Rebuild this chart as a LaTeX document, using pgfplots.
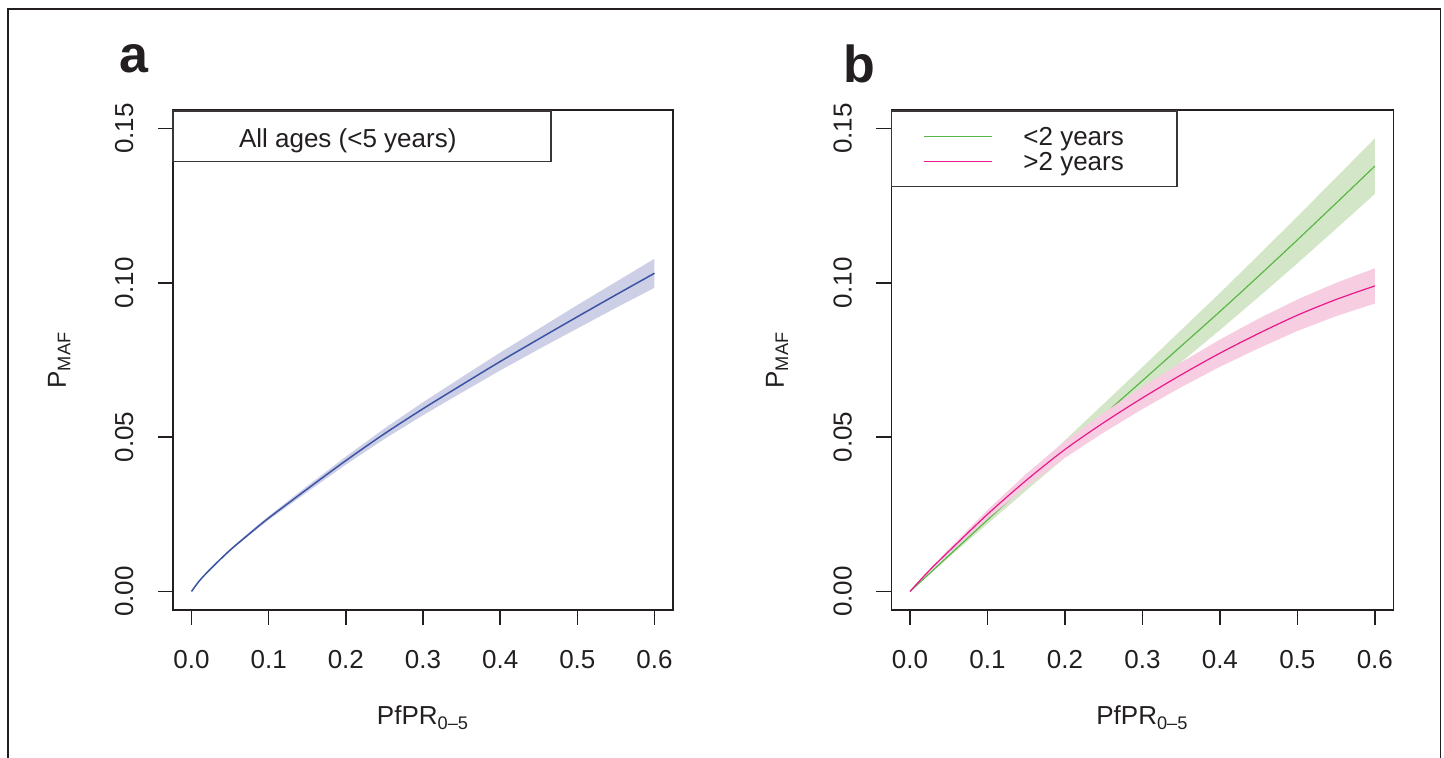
\documentclass[border=0pt]{standalone}
\usepackage{fontspec}
\setmainfont{Liberation Sans}
\usepackage{pgfplots}
\pgfplotsset{compat=1.18}

\definecolor{bluel}{HTML}{3C54A4}
\definecolor{blueb}{HTML}{CDCFE6}
\definecolor{greenl}{HTML}{5BB646}
\definecolor{greenb}{HTML}{D3E7C8}
\definecolor{pinkl}{HTML}{E8198B}
\definecolor{pinkb}{HTML}{F7CDE1}
\definecolor{ink}{HTML}{231F20}

% central estimates
\pgfplotstableread{
x      y
0.00   0.0000
0.01   0.0034
0.025  0.0074
0.05   0.0134
0.075  0.0187
0.10   0.0238
0.15   0.0332
0.20   0.0424
0.25   0.0511
0.30   0.0592
0.35   0.0669
0.40   0.0745
0.45   0.0818
0.50   0.0890
0.55   0.0961
0.60   0.1031
}\allages

\pgfplotstableread{
x      y
0.00   0.0000
0.025  0.0058
0.05   0.0116
0.10   0.0232
0.15   0.0347
0.20   0.0462
0.25   0.0572
0.30   0.0683
0.35   0.0795
0.40   0.0907
0.45   0.1022
0.50   0.1139
0.55   0.1258
0.60   0.1378
}\youngkids

\pgfplotstableread{
x      y
0.00   0.0000
0.01   0.0028
0.025  0.0068
0.05   0.0130
0.10   0.0250
0.15   0.0360
0.20   0.0460
0.25   0.0547
0.30   0.0627
0.35   0.0702
0.40   0.0772
0.45   0.0836
0.50   0.0895
0.55   0.0946
0.60   0.0990
}\oldkids

\pgfplotsset{
  panel/.style={
    scale only axis, width=250pt, height=250pt,
    xmin=-0.024, xmax=0.624, ymin=-0.006, ymax=0.156,
    xtick={0,0.1,0.2,0.3,0.4,0.5,0.6},
    xticklabels={0.0,0.1,0.2,0.3,0.4,0.5,0.6},
    ytick={0,0.05,0.1,0.15},
    yticklabels={0.00,0.05,0.10,0.15},
    xtick pos=bottom, ytick pos=left, tick align=outside,
    major tick length=7.5pt,
    tick style={ink, line width=0.75pt},
    axis line style={ink, line width=0.85pt},
    ticklabel style={font=\fontsize{13}{15}\selectfont, text=ink},
    xticklabel style={anchor=base, inner sep=0pt}, xticklabel shift=21.7pt,
    yticklabel style={rotate=90, anchor=base, inner sep=0pt}, yticklabel shift=12.4pt,
    label style={font=\fontsize{13}{15}\selectfont, text=ink},
    xlabel={PfPR\textsubscript{0–5}},
    ylabel={P\textsubscript{MAF}},
    x label style={at={(axis description cs:0.5,-0.23)}, anchor=base},
    y label style={at={(axis description cs:-0.214,0.5)}, anchor=base},
  },
}

\begin{document}
\begin{tikzpicture}[font=\fontsize{13}{15}\selectfont]
\useasboundingbox (0,0) rectangle (722pt,379pt);
\draw[ink, line width=0.75pt] (3.9pt,0) -- (3.9pt,374.5pt) -- (720.3pt,374.5pt) -- (720.3pt,0);

\node[anchor=base west, inner sep=0pt, font=\fontsize{26}{30}\selectfont\bfseries, text=ink] at (59.5pt,342.5pt) {a};
\node[anchor=base west, inner sep=0pt, font=\fontsize{26}{30}\selectfont\bfseries, text=ink] at (421.5pt,337.6pt) {b};

% --- panel a ---
\begin{axis}[panel, at={(86.5pt,74pt)}, anchor=south west]
% 95% band: upper edge forward, lower edge back
\addplot[draw=none, fill=blueb] coordinates {
  (0,0) (0.01,0.0035) (0.025,0.0076) (0.05,0.0137) (0.075,0.0192) (0.1,0.0244)
  (0.15,0.0342) (0.2,0.0437) (0.25,0.0528) (0.3,0.0613) (0.35,0.0694) (0.4,0.0774)
  (0.45,0.0851) (0.5,0.0928) (0.55,0.1003) (0.6,0.1078)
  (0.6,0.0984) (0.55,0.0919) (0.5,0.0852) (0.45,0.0785) (0.4,0.0716) (0.35,0.0644)
  (0.3,0.0571) (0.25,0.0494) (0.2,0.0411) (0.15,0.0322) (0.1,0.0232) (0.075,0.0182)
  (0.05,0.0131) (0.025,0.0072) (0.01,0.0033) (0,0)
};
\addplot[bluel, line width=0.75pt, smooth] table[x=x, y=y] {\allages};
\end{axis}

% --- panel b ---
\begin{axis}[panel, width=251pt, at={(445.7pt,74pt)}, anchor=south west]
\addplot[draw=none, fill=greenb] coordinates {
  (0,0) (0.025,0.0061) (0.05,0.0122) (0.1,0.0245) (0.15,0.0367) (0.2,0.0490)
  (0.25,0.0608) (0.3,0.0727) (0.35,0.0847) (0.4,0.0967) (0.45,0.1090) (0.5,0.1215)
  (0.55,0.1341) (0.6,0.1468)
  (0.6,0.1288) (0.55,0.1175) (0.5,0.1063) (0.45,0.0954) (0.4,0.0847) (0.35,0.0743)
  (0.3,0.0639) (0.25,0.0536) (0.2,0.0434) (0.15,0.0327) (0.1,0.0219) (0.05,0.0110)
  (0.025,0.0055) (0,0)
};
\addplot[greenl, line width=0.6pt, smooth] table[x=x, y=y] {\youngkids};
\addplot[draw=none, fill=pinkb] coordinates {
  (0,0) (0.01,0.0030) (0.025,0.0072) (0.05,0.0137) (0.1,0.0264) (0.15,0.0381)
  (0.2,0.0487) (0.25,0.0579) (0.3,0.0663) (0.35,0.0742) (0.4,0.0816) (0.45,0.0884)
  (0.5,0.0946) (0.55,0.1000) (0.6,0.1047)
  (0.6,0.0933) (0.55,0.0892) (0.5,0.0844) (0.45,0.0788) (0.4,0.0728) (0.35,0.0662)
  (0.3,0.0591) (0.25,0.0515) (0.2,0.0433) (0.15,0.0339) (0.1,0.0236) (0.05,0.0123)
  (0.025,0.0064) (0.01,0.0026) (0,0)
};
\addplot[pinkl, line width=0.6pt, smooth] table[x=x, y=y] {\oldkids};
\end{axis}

% legends
\draw[ink!90, line width=0.7pt, fill=white] (86.5pt,298.15pt) rectangle (275.5pt,323.5pt);
\node[anchor=base west, inner sep=0pt, text=ink] at (119.3pt,305pt) {All ages (<5 years)};

\draw[ink!90, line width=0.7pt, fill=white] (445.7pt,285.65pt) rectangle (588.5pt,323.5pt);
\draw[greenl, line width=0.7pt] (462pt,310.85pt) -- (495.75pt,310.85pt);
\draw[pinkl, line width=0.7pt] (462pt,298.15pt) -- (495.75pt,298.15pt);
\node[anchor=base west, inner sep=0pt, text=ink] at (511.5pt,306.35pt) {<2 years};
\node[anchor=base west, inner sep=0pt, text=ink] at (511.5pt,293.65pt) {>2 years};
\end{tikzpicture}
\end{document}
